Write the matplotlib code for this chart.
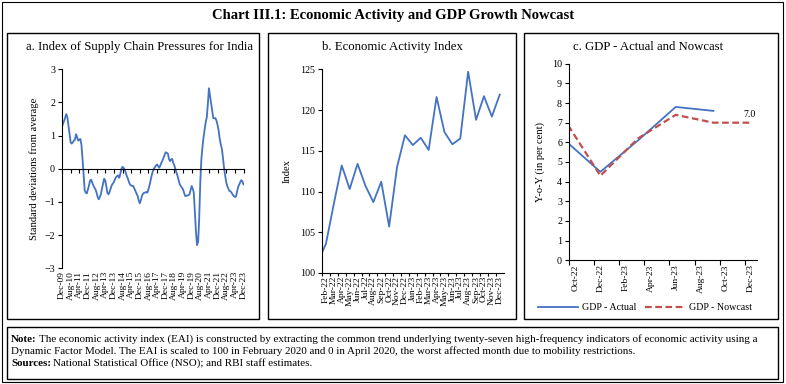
import numpy as np
import matplotlib
matplotlib.use("Agg")
import matplotlib.pyplot as plt
from matplotlib.patches import Rectangle

W, H = 786, 384
plt.rcParams['font.family'] = ['Liberation Serif', 'DejaVu Serif']
plt.rcParams['axes.linewidth'] = 0.8

BLUE = '#4472C4'
RED = '#C0504D'

# ---------------- Panel a: Index of Supply Chain Pressures (monthly, Dec-09 .. Dec-23)
scp_values = [
    1.28, 1.36, 1.45, 1.55, 1.65, 1.55, 1.30, 1.05, 0.80, 0.76,
    0.80, 0.85, 0.88, 1.04, 0.95, 0.85, 0.88, 0.90, 0.72, 0.30,
    -0.20, -0.65, -0.72, -0.74, -0.62, -0.50, -0.35, -0.33, -0.42, -0.50,
    -0.57, -0.62, -0.72, -0.85, -0.92, -0.85, -0.77, -0.60, -0.45, -0.30,
    -0.35, -0.52, -0.72, -0.77, -0.70, -0.60, -0.50, -0.45, -0.40, -0.32,
    -0.25, -0.22, -0.20, -0.27, -0.15, 0.00, 0.06, 0.03, -0.02, -0.12,
    -0.22, -0.30, -0.40, -0.48, -0.50, -0.52, -0.52, -0.60, -0.67, -0.75,
    -0.82, -0.95, -1.04, -0.95, -0.82, -0.75, -0.72, -0.72, -0.70, -0.72,
    -0.62, -0.50, -0.35, -0.20, -0.08, 0.00, 0.05, 0.10, 0.13, 0.08,
    0.03, 0.10, 0.18, 0.25, 0.33, 0.42, 0.50, 0.48, 0.46, 0.30,
    0.23, 0.28, 0.30, 0.18, 0.10, -0.02, -0.12, -0.22, -0.35, -0.47,
    -0.52, -0.57, -0.62, -0.72, -0.82, -0.82, -0.80, -0.80, -0.77, -0.65,
    -0.52, -0.60, -0.72, -1.30, -1.90, -2.30, -2.20, -1.50, -0.40, 0.28,
    0.65, 0.95, 1.18, 1.40, 1.55, 1.95, 2.43, 2.20, 1.98, 1.75,
    1.53, 1.52, 1.53, 1.45, 1.32, 1.15, 0.90, 0.73, 0.60, 0.33,
    0.03, -0.20, -0.40, -0.52, -0.60, -0.67, -0.68, -0.72, -0.78, -0.82,
    -0.85, -0.84, -0.70, -0.55, -0.48, -0.40, -0.34, -0.38, -0.47,
]
scp_tick_labels = ['Dec-09', 'Aug-10', 'Apr-11', 'Dec-11', 'Aug-12', 'Apr-13',
                   'Dec-13', 'Aug-14', 'Apr-15', 'Dec-15', 'Aug-16', 'Apr-17',
                   'Dec-17', 'Aug-18', 'Apr-19', 'Dec-19', 'Aug-20', 'Apr-21',
                   'Dec-21', 'Aug-22', 'Apr-23', 'Dec-23']
scp_tick_step = 8

# ---------------- Panel b: Economic Activity Index (monthly)
eai_months = ['Jan-22', 'Feb-22', 'Mar-22', 'Apr-22', 'May-22', 'Jun-22', 'Jul-22',
              'Aug-22', 'Sep-22', 'Oct-22', 'Nov-22', 'Dec-22', 'Jan-23', 'Feb-23',
              'Mar-23', 'Apr-23', 'May-23', 'Jun-23', 'Jul-23', 'Aug-23', 'Sep-23',
              'Oct-23', 'Nov-23', 'Dec-23']
eai_values = [101.4, 103.6, 108.5, 113.2, 110.3, 113.4, 110.7, 108.7, 111.2, 105.7,
              113.0, 116.9, 115.7, 116.6, 115.1, 121.6, 117.3, 115.8, 116.5, 124.7,
              118.8, 121.7, 119.2, 121.9]

# ---------------- Panel c: GDP actual and nowcast (quarterly, on a monthly axis)
gdp_axis_months = ['Oct-22', 'Nov-22', 'Dec-22', 'Jan-23', 'Feb-23', 'Mar-23', 'Apr-23',
                   'May-23', 'Jun-23', 'Jul-23', 'Aug-23', 'Sep-23', 'Oct-23', 'Nov-23',
                   'Dec-23']
gdp_quarters = ['Sep-22', 'Dec-22', 'Mar-23', 'Jun-23', 'Sep-23', 'Dec-23']
gdp_actual = [6.2, 4.5, 6.1, 7.8, 7.6, np.nan]
gdp_nowcast = [7.3, 4.3, 6.2, 7.4, 7.0, 7.0]

MON = {m: i for i, m in enumerate(['Jan', 'Feb', 'Mar', 'Apr', 'May', 'Jun', 'Jul',
                                   'Aug', 'Sep', 'Oct', 'Nov', 'Dec'])}


def month_num(s):
    m, y = s.split('-')
    return (2000 + int(y)) * 12 + MON[m]


fig = plt.figure(figsize=(W / 100, H / 100), dpi=100)


def px_axes(x0, y0, x1, y1):
    return fig.add_axes([x0 / W, 1 - y1 / H, (x1 - x0) / W, (y1 - y0) / H])


def px_rect(x0, y0, x1, y1, lw=1.0):
    fig.add_artist(Rectangle((x0 / W, 1 - y1 / H), (x1 - x0) / W, (y1 - y0) / H,
                             transform=fig.transFigure, fill=False, lw=lw, ec='black'))


def px_text(x, y, s, **kw):
    return fig.text(x / W, 1 - y / H, s, **kw)


TICK_FS = 6.8
YTICK_FS = 7.2
LAB_FS = 7.6
PTITLE_FS = 9.2

# frames
px_rect(2, 2, 783, 382, lw=0.8)
px_rect(7, 33, 259, 319)
px_rect(268, 33, 516, 319)
px_rect(524, 33, 778, 319)
px_rect(7, 327, 778, 379)

px_text(393, 15, 'Chart III.1: Economic Activity and GDP Growth Nowcast',
        ha='center', va='center', fontsize=10.5, fontweight='bold')

# ---------------- Panel a
ax = px_axes(62, 69.3, 243.5, 268.3)
x = np.arange(len(scp_values))
ax.plot(x, scp_values, color=BLUE, lw=1.3)
ax.set_xlim(0, len(scp_values) - 1)
ax.set_ylim(-3, 3)
ax.set_yticks(np.arange(-3, 4, 1))
ax.tick_params(axis='y', labelsize=YTICK_FS, length=3, width=0.8, pad=2)
for s in ['top', 'right']:
    ax.spines[s].set_visible(False)
ax.spines['bottom'].set_position(('data', 0))
tick_pos = np.arange(0, len(scp_values), scp_tick_step)
ax.set_xticks(tick_pos)
ax.tick_params(axis='x', direction='out', length=3, width=0.8, labelbottom=False)
sec = ax.secondary_xaxis('bottom')
sec.set_xticks(tick_pos)
sec.set_xticklabels(scp_tick_labels, rotation=90, fontsize=TICK_FS)
sec.tick_params(length=0, pad=2)
sec.spines['bottom'].set_visible(False)
ax.set_ylabel('Standard deviations from average', fontsize=LAB_FS, labelpad=4)
ax.set_facecolor('none')
px_text(139, 47, 'a. Index of Supply Chain Pressures for India', ha='center', va='center',
        fontsize=PTITLE_FS)

# ---------------- Panel b
bx = px_axes(322, 69.3, 503.7, 273)
xb = np.arange(len(eai_values))
bx.plot(xb, eai_values, color=BLUE, lw=1.3)
bx.set_xlim(0.5, len(eai_values) - 0.5)
bx.set_ylim(100, 125)
bx.set_yticks(np.arange(100, 126, 5))
bx.tick_params(axis='y', labelsize=YTICK_FS, length=3, width=0.8, pad=2)
for s in ['top', 'right']:
    bx.spines[s].set_visible(False)
bx.set_xticks(xb[1:])
bx.set_xticklabels(eai_months[1:], rotation=90, fontsize=TICK_FS)
bx.tick_params(axis='x', length=0, pad=2)
bx.set_xticks(xb[1:] - 0.5, minor=True)
bx.tick_params(axis='x', which='minor', length=2.5, width=0.8)
bx.set_ylabel('Index', fontsize=LAB_FS, labelpad=6)
px_text(392, 47, 'b. Economic Activity Index', ha='center', va='center', fontsize=PTITLE_FS)

# ---------------- Panel c
cx = px_axes(569, 63.7, 757.3, 260.3)
base = month_num(gdp_axis_months[0])
xq = np.array([month_num(q) - base for q in gdp_quarters])
cx.plot(xq, gdp_actual, color=BLUE, lw=1.3, label='GDP - Actual')
cx.plot(xq, gdp_nowcast, color=RED, lw=1.6, ls=(0, (3, 1.6)), label='GDP - Nowcast')
cx.set_xlim(-0.5, len(gdp_axis_months) - 0.5)
cx.set_ylim(0, 10)
cx.set_yticks(np.arange(0, 11, 1))
cx.tick_params(axis='y', labelsize=YTICK_FS, length=3, width=0.8, pad=2)
for s in ['top', 'right']:
    cx.spines[s].set_visible(False)
xc = np.arange(len(gdp_axis_months))
cx.set_xticks(xc[::2])
cx.set_xticklabels(gdp_axis_months[::2], rotation=90, fontsize=TICK_FS)
cx.tick_params(axis='x', length=0, pad=3)
cx.set_xticks(xc[::2] - 0.5, minor=True)
cx.tick_params(axis='x', which='minor', length=3.5, width=0.8)
cx.set_ylabel('Y-o-Y (in per cent)', fontsize=LAB_FS, labelpad=5)
cx.annotate(f'{gdp_nowcast[-1]:.1f}', (xq[-1], gdp_nowcast[-1]), xytext=(-1, 3),
            textcoords='offset points', ha='center', va='bottom', fontsize=YTICK_FS)
cx.legend(loc='center', bbox_to_anchor=(645 / W, 1 - 308 / H), bbox_transform=fig.transFigure,
          ncol=2, frameon=False, fontsize=7.2, handlelength=4.0, columnspacing=0.8,
          handletextpad=0.4)
px_text(648, 47, 'c. GDP - Actual and Nowcast', ha='center', va='center', fontsize=PTITLE_FS)

# ---------------- Note
NOTE_FS = 7.95
renderer = fig.canvas.get_renderer()


def bold_lead(x, y, lead, rest):
    t = px_text(x, y, lead, ha='left', va='center', fontsize=NOTE_FS, fontweight='bold')
    bb = t.get_window_extent(renderer=renderer)
    px_text(x + bb.width + 2, y, rest, ha='left', va='center', fontsize=NOTE_FS)


bold_lead(11, 339, 'Note:', 'The economic activity index (EAI) is constructed by extracting the common '
          'trend underlying twenty-seven high-frequency indicators of economic activity using a')
px_text(11, 351, 'Dynamic Factor Model. The EAI is scaled to 100 in February 2020 and 0 in April 2020, '
        'the worst affected month due to mobility restrictions.', ha='left', va='center',
        fontsize=NOTE_FS)
bold_lead(11, 363, 'Sources:', 'National Statistical Office (NSO); and RBI staff estimates.')

fig.savefig('out.png', dpi=100)
